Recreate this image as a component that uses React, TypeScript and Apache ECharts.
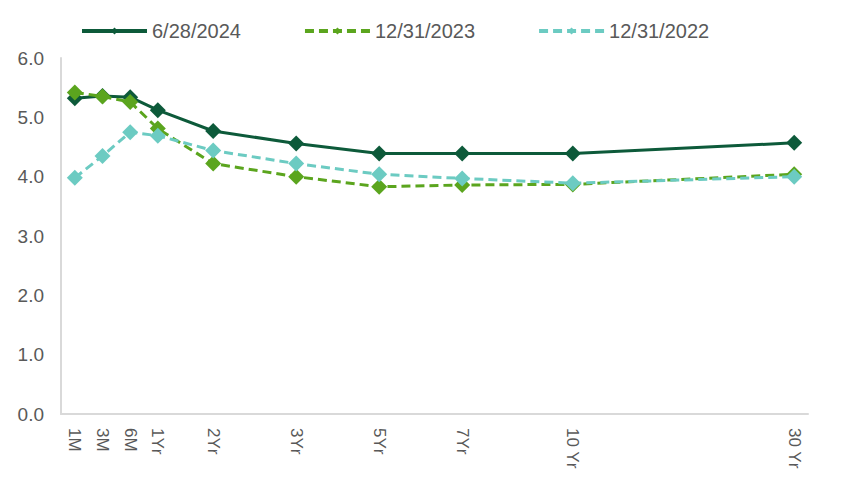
import React, { useEffect, useRef } from "react";
import * as echarts from "echarts";

const tenorLabels = ["1M", "3M", "6M", "1Yr", "2Yr", "3Yr", "5Yr", "7Yr", "10 Yr", "30 Yr"];
const tenorSlots = [0, 1, 2, 3, 5, 8, 11, 14, 18, 26];
const slotCount = 27;

const seriesNames = ["6/28/2024", "12/31/2023", "12/31/2022"];
const yields2024 = [5.32, 5.36, 5.34, 5.12, 4.77, 4.56, 4.39, 4.39, 4.39, 4.57];
const yields2023 = [5.42, 5.35, 5.26, 4.81, 4.22, 4.0, 3.83, 3.86, 3.87, 4.04];
const yields2022 = [3.98, 4.35, 4.75, 4.69, 4.44, 4.22, 4.04, 3.97, 3.89, 4.0];
const yTicks = [0, 1, 2, 3, 4, 5, 6];

const FONT = "'Liberation Sans', Arial, sans-serif";
const TEXT = "#595959";

export default function App() {
  const ref = useRef<HTMLDivElement>(null);
  useEffect(() => {
    if (!ref.current) return;
    const chart = echarts.init(ref.current, undefined, { renderer: "svg" });
    const categories: string[] = Array(slotCount).fill("");
    tenorSlots.forEach((s, i) => (categories[s] = tenorLabels[i]));
    const toData = (vals: number[]) => tenorSlots.map((s, i) => [s, vals[i]]);
    const colors = ["#0d5a3a", "#5ba51e", "#6ccbc2"];
    const all = [yields2024, yields2023, yields2022];
    chart.setOption({
      animation: false,
      textStyle: { fontFamily: FONT },
      legend: {
        left: 75,
        top: 16,
        itemWidth: 65,
        itemHeight: 9,
        itemGap: 62,
        lineStyle: { width: 4 },
        textStyle: { color: TEXT, fontSize: 20, fontFamily: FONT },
        data: seriesNames,
      },
      grid: { left: 61, right: 48, top: 58, bottom: 78, containLabel: false },
      xAxis: {
        type: "category",
        data: categories,
        boundaryGap: true,
        axisLine: { show: true, lineStyle: { color: "#d9d9d9", width: 2 } },
        axisTick: { show: false },
        axisLabel: {
          interval: 0,
          rotate: -90,
          margin: 14,
          color: TEXT,
          fontSize: 17,
          fontFamily: FONT,
        },
        splitLine: { show: false },
      },
      yAxis: {
        type: "value",
        min: yTicks[0],
        max: yTicks[yTicks.length - 1],
        interval: 1,
        axisLine: { show: true, lineStyle: { color: "#d9d9d9", width: 2 } },
        axisTick: { show: false },
        splitLine: { show: false },
        axisLabel: {
          color: TEXT,
          fontSize: 19,
          fontFamily: FONT,
          margin: 17,
          formatter: (v: number) => v.toFixed(1),
        },
      },
      series: seriesNames.map((name, i) => ({
        name,
        type: "line",
        data: toData(all[i]),
        symbol: "diamond",
        symbolSize: 16,
        showAllSymbol: true,
        color: colors[i],
        itemStyle: { color: colors[i] },
        lineStyle: {
          color: colors[i],
          width: 3,
          type: i === 0 ? "solid" : [9, 5],
        },
        z: 2 + i,
      })),
    });
    return () => chart.dispose();
  }, []);
  return (
    <div
      ref={ref}
      style={{ position: "fixed", left: 0, top: 0, width: 856, height: 492, background: "#fff" }}
    />
  );
}
